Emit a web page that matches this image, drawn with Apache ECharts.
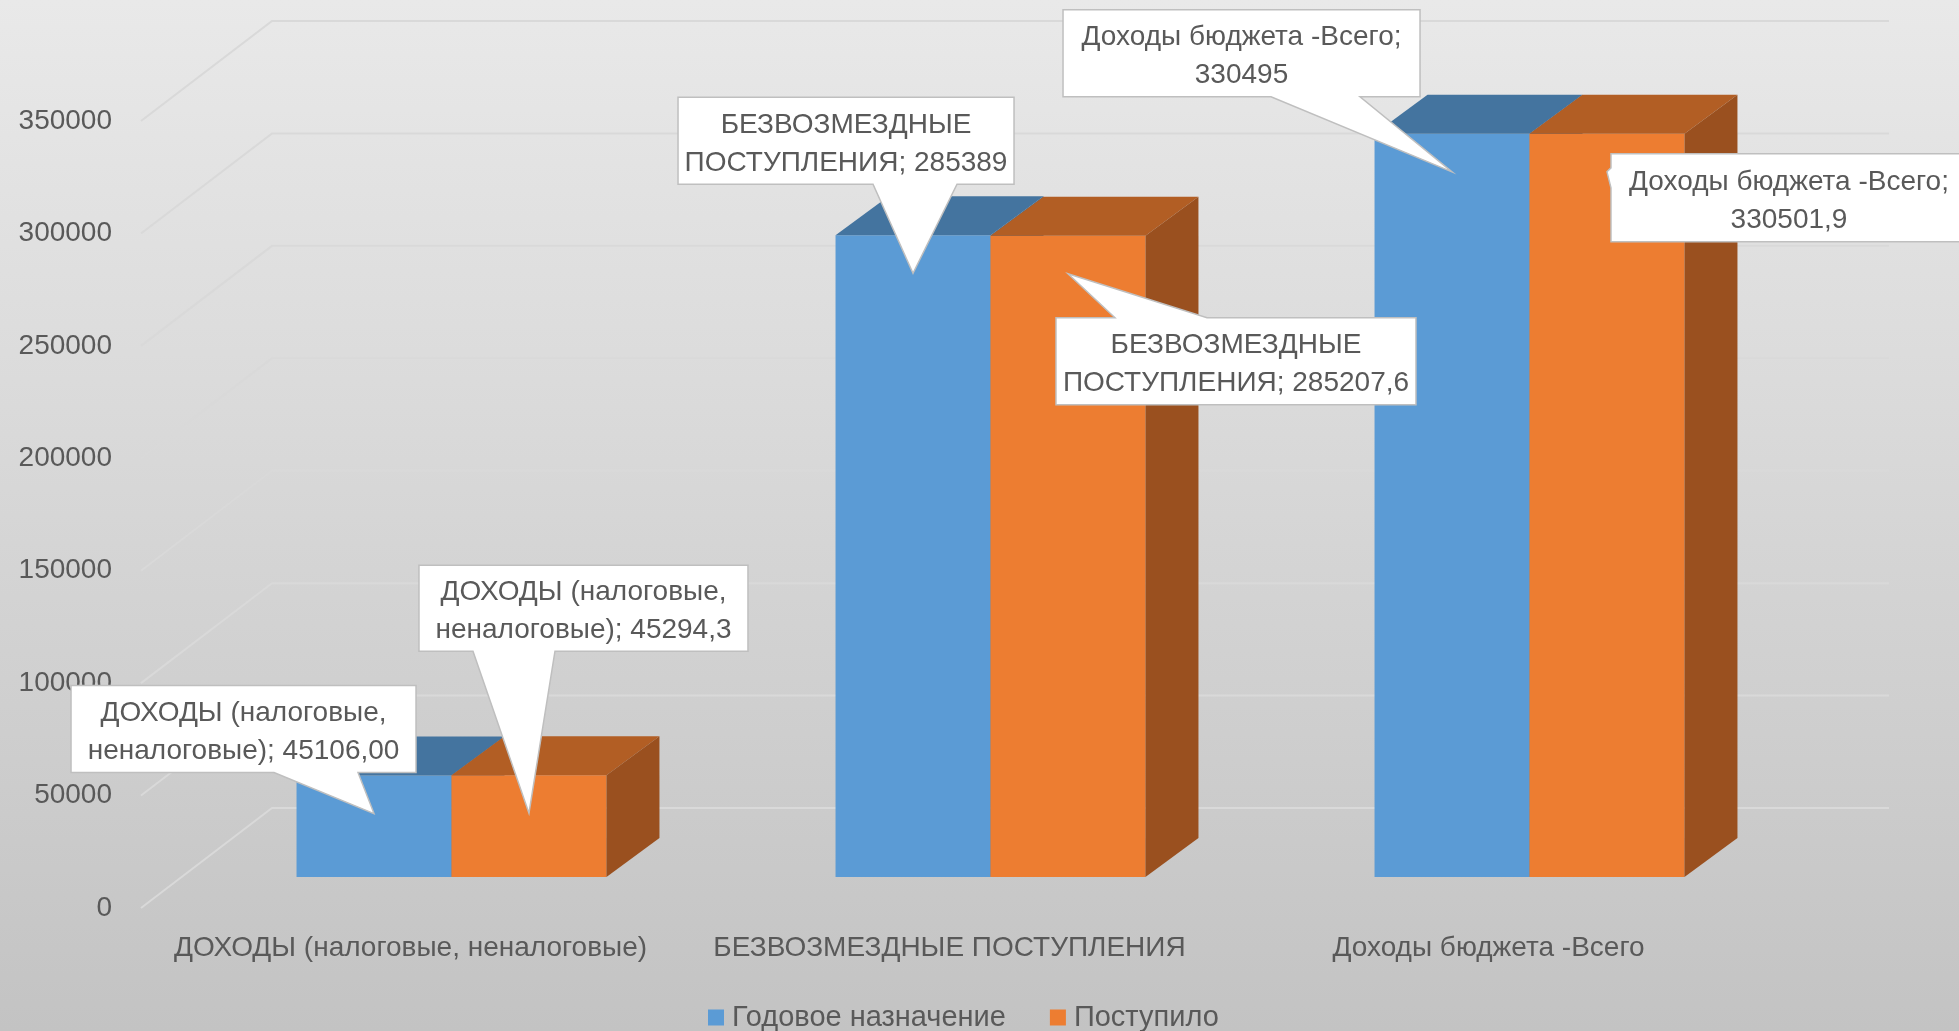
<!DOCTYPE html>
<html>
<head>
<meta charset="utf-8">
<title>Доходы бюджета</title>
<script src="https://cdn.jsdelivr.net/npm/echarts@6/dist/echarts.min.js"></script>
<style>
  html, body { margin: 0; padding: 0; }
  #chart { width: 1959px; height: 1031px; }
</style>
</head>
<body>
<div id="chart"></div>
<script>
// данные
const categories = ['ДОХОДЫ (налоговые, неналоговые)', 'БЕЗВОЗМЕЗДНЫЕ ПОСТУПЛЕНИЯ', 'Доходы бюджета -Всего'];
const seriesNames = ['Годовое назначение', 'Поступило'];
const planValues = [45106.00, 285389, 330495];
const factValues = [45294.3, 285207.6, 330501.9];
const planDecimals = [2, 0, 0];
const factDecimals = [1, 1, 1];
const yTicks = [0, 50000, 100000, 150000, 200000, 250000, 300000, 350000];

// псевдо-3D: сдвиги плоскостей (как в Excel)
const FRONT = [41, -31];   // от плоскости подписей до передней грани столбцов
const DEPTH = [53, -39];   // глубина столбца
const WALL = [131, -100];  // задняя стенка
const BAR_RATIO = 0.2875;
const TIP_DROP = 38;

const FONT = '"Liberation Sans", Arial, sans-serif';
const TEXT_COLOR = '#595959';

// выноски: прямоугольник и основание хвоста относительно острия, words = слов в первой строке
const planCallouts = [
  { box: [-303, -128, 42, -41], side: 'bottom', base: [-100, -16], words: 2 },
  { box: [-235, -176, 101, -89], side: 'bottom', base: [-40, 44], words: 1 },
  { box: [-389, -162, -32, -75], side: 'bottom', base: [-181, -92], words: 3 }
];
const factCallouts = [
  { box: [-110, -248, 219, -162], side: 'bottom', base: [-56, 26], words: 2 },
  { box: [-12, 44, 348, 131], side: 'top', base: [47, 139], words: 1 },
  { box: [4, -18, 360, 70], side: 'left', base: [-4, 16], words: 3 }
];

const palette = [
  { front: '#5B9BD5', top: '#44749F', side: '#3F6D96' },
  { front: '#ED7D31', top: '#B25E24', side: '#9A501F' }
];

function fmt(v, d) {
  return v.toFixed(d).replace('.', ',');
}

function renderGrid(params, api) {
  const cs = params.coordSys;
  const y = api.coord([0, api.value(1)])[1];
  return {
    type: 'polyline',
    shape: { points: [[cs.x, y], [cs.x + WALL[0], y + WALL[1]], [cs.x + cs.width + WALL[0], y + WALL[1]]] },
    style: { stroke: '#D9D9D9', lineWidth: 2, fill: null }
  };
}

function barRenderer(k) {
  const c = palette[k];
  return function (params, api) {
    const idx = api.value(0);
    const top = api.coord([idx, api.value(1)]);
    const bottom = api.coord([idx, 0]);
    const w = api.size([1, 0])[0] * BAR_RATIO;
    const x0 = top[0] + FRONT[0] + (k === 0 ? -w : 0);
    const x1 = x0 + w;
    const yT = top[1] + FRONT[1];
    const yB = bottom[1] + FRONT[1];
    return {
      type: 'group',
      children: [
        { type: 'rect', shape: { x: x0, y: yT, width: w, height: yB - yT }, style: { fill: c.front } },
        { type: 'polygon', shape: { points: [[x0, yT], [x1, yT], [x1 + DEPTH[0], yT + DEPTH[1]], [x0 + DEPTH[0], yT + DEPTH[1]]] }, style: { fill: c.top } },
        { type: 'polygon', shape: { points: [[x1, yT], [x1 + DEPTH[0], yT + DEPTH[1]], [x1 + DEPTH[0], yB + DEPTH[1]], [x1, yB]] }, style: { fill: c.side } }
      ]
    };
  };
}

function calloutRenderer(k, layouts, values, decimals) {
  return function (params, api) {
    const idx = api.value(0);
    const top = api.coord([idx, api.value(1)]);
    const w = api.size([1, 0])[0] * BAR_RATIO;
    const tx = top[0] + FRONT[0] + (k === 0 ? -w / 2 : w / 2);
    const ty = top[1] + FRONT[1] + TIP_DROP;
    const L = layouts[idx];
    const x0 = tx + L.box[0], y0 = ty + L.box[1], x1 = tx + L.box[2], y1 = ty + L.box[3];
    let pts;
    if (L.side === 'bottom') {
      pts = [[x0, y0], [x1, y0], [x1, y1], [tx + L.base[1], y1], [tx, ty], [tx + L.base[0], y1], [x0, y1]];
    } else if (L.side === 'top') {
      pts = [[x0, y0], [tx + L.base[0], y0], [tx, ty], [tx + L.base[1], y0], [x1, y0], [x1, y1], [x0, y1]];
    } else {
      pts = [[x0, y0], [x1, y0], [x1, y1], [x0, y1], [x0, ty + L.base[1]], [tx, ty], [x0, ty + L.base[0]]];
    }
    const words = (categories[idx] + '; ' + fmt(values[idx], decimals[idx])).split(' ');
    const label = words.slice(0, L.words).join(' ') + '\n' + words.slice(L.words).join(' ');
    return {
      type: 'group',
      children: [
        { type: 'polygon', shape: { points: pts }, style: { fill: '#FFFFFF', stroke: '#BFBFBF', lineWidth: 1.5 } },
        {
          type: 'text',
          style: {
            x: (x0 + x1) / 2, y: (y0 + y1) / 2 + 3,
            text: label,
            align: 'center', verticalAlign: 'middle',
            fontSize: 28, lineHeight: 38, fontFamily: FONT, fill: TEXT_COLOR
          }
        }
      ]
    };
  };
}

const chart = echarts.init(document.getElementById('chart'));

const option = {
  animation: false,
  backgroundColor: {
    type: 'linear', x: 0, y: 0, x2: 0, y2: 1,
    colorStops: [{ offset: 0, color: '#E9E9E9' }, { offset: 1, color: '#C3C3C3' }]
  },
  textStyle: { fontFamily: FONT },
  grid: { left: 141, top: 121, width: 1617, height: 787 },
  legend: {
    data: seriesNames,
    top: 998,
    left: 703,
    icon: 'rect',
    itemWidth: 16,
    itemHeight: 16,
    itemGap: 44,
    textStyle: { fontSize: 29, color: TEXT_COLOR, fontFamily: FONT, padding: [0, 0, 0, 3] }
  },
  xAxis: {
    type: 'category',
    data: categories,
    axisLine: { show: false },
    axisTick: { show: false },
    axisLabel: { fontSize: 28, color: TEXT_COLOR, margin: 26, interval: 0 }
  },
  yAxis: {
    type: 'value',
    min: 0,
    max: 350000,
    interval: 50000,
    axisLine: { show: false },
    axisTick: { show: false },
    splitLine: { show: false },
    axisLabel: { fontSize: 28, color: TEXT_COLOR, margin: 29, formatter: v => String(v) }
  },
  series: [
    {
      type: 'custom', z: 1, silent: true, clip: false,
      renderItem: renderGrid,
      data: yTicks.map(v => [0, v])
    },
    {
      name: seriesNames[0], type: 'custom', z: 2, clip: false,
      itemStyle: { color: palette[0].front },
      renderItem: barRenderer(0),
      data: planValues.map((v, i) => [i, v])
    },
    {
      name: seriesNames[1], type: 'custom', z: 2, clip: false,
      itemStyle: { color: palette[1].front },
      renderItem: barRenderer(1),
      data: factValues.map((v, i) => [i, v])
    },
    {
      type: 'custom', z: 5, silent: true, clip: false,
      renderItem: calloutRenderer(0, planCallouts, planValues, planDecimals),
      data: planValues.map((v, i) => [i, v])
    },
    {
      type: 'custom', z: 5, silent: true, clip: false,
      renderItem: calloutRenderer(1, factCallouts, factValues, factDecimals),
      data: factValues.map((v, i) => [i, v])
    }
  ]
};

chart.setOption(option);
window.addEventListener('resize', () => chart.resize());
</script>
</body>
</html>
